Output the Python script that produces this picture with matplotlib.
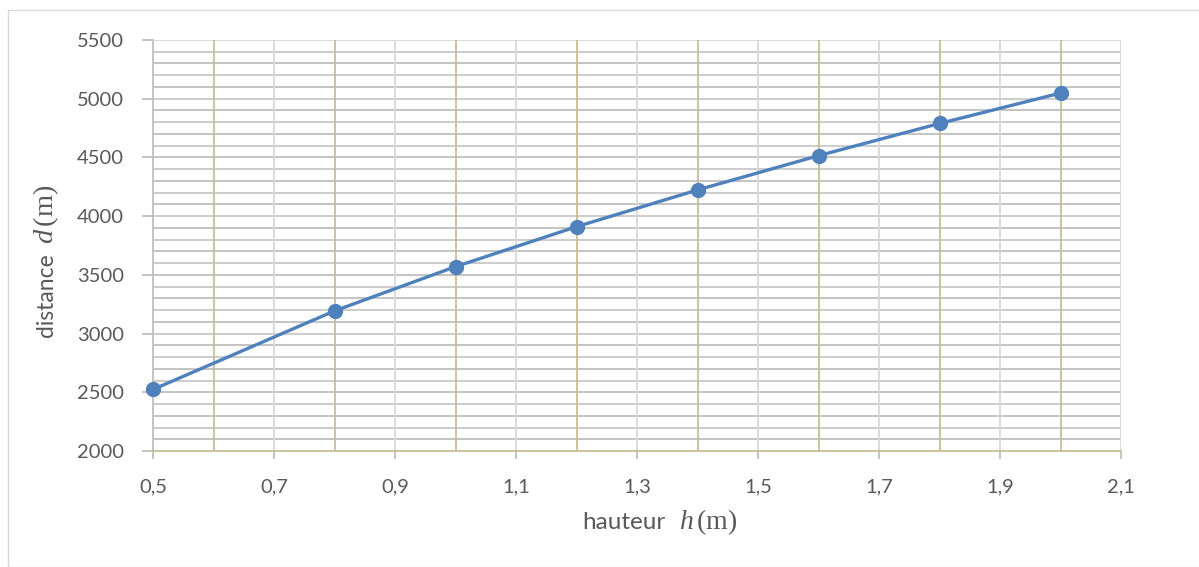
import matplotlib
matplotlib.use("Agg")
import matplotlib.pyplot as plt
import numpy as np
from matplotlib.ticker import FixedLocator, FuncFormatter

h_values = [0.5, 0.8, 1.0, 1.2, 1.4, 1.6, 1.8, 2.0]
d_values = [2524, 3193, 3570, 3910, 4223, 4515, 4789, 5048]
x_ticks = [0.5, 0.7, 0.9, 1.1, 1.3, 1.5, 1.7, 1.9, 2.1]
x_minor = [0.6, 0.8, 1.0, 1.2, 1.4, 1.6, 1.8, 2.0]
y_ticks = [2000, 2500, 3000, 3500, 4000, 4500, 5000, 5500]

plt.rcParams['mathtext.fontset'] = 'custom'
plt.rcParams['mathtext.it'] = 'Liberation Serif:italic'
plt.rcParams['mathtext.rm'] = 'Liberation Serif'
plt.rcParams['font.family'] = ['Lato', 'DejaVu Sans']

fig = plt.figure(figsize=(11.99, 5.67), dpi=100)
W, H = 1199, 567
ax = fig.add_axes([153 / W, 1 - 451 / H, (1121 - 153) / W, (451 - 40) / H])

def fx(px):
    return px / W

def fy(py):
    return 1 - py / H

# outer chart border
fig.patches.append(plt.Rectangle((fx(8), 0), 1.2, fy(10), transform=fig.transFigure,
                                 fill=False, edgecolor='#D9D9D9', linewidth=1.0))

ax.set_xlim(0.5, 2.1)
ax.set_ylim(2000, 5500)

# horizontal grid every 100
for i, yv in enumerate(np.arange(2100, 5500, 100)):
    ax.axhline(yv, color='#BFBFBF' if i % 2 == 0 else '#C8C8C8', linewidth=1.3, zorder=1)
ax.axhline(5500, color='#D9D9D9', linewidth=1.3, zorder=1)
# vertical light grid at labeled ticks
for xv in x_ticks[1:]:
    ax.axvline(xv, color='#D9D9D9', linewidth=1.3, zorder=1)
# vertical tan grid at minor positions
for xv in x_minor:
    ax.axvline(xv, color='#C9BE96', linewidth=1.3, zorder=1.5)

ax.plot(h_values, d_values, color='#4F81BD', linewidth=2.4, marker='o',
        markersize=10, zorder=3, clip_on=False)

for s in ['top', 'right']:
    ax.spines[s].set_visible(False)
ax.spines['left'].set_color('#BFBFBF')
ax.spines['left'].set_linewidth(1.3)
ax.spines['bottom'].set_color('#C9BE96')
ax.spines['bottom'].set_linewidth(1.3)
ax.spines['left'].set_zorder(2)
ax.spines['bottom'].set_zorder(2)

ax.xaxis.set_major_locator(FixedLocator(x_ticks))
ax.yaxis.set_major_locator(FixedLocator(y_ticks))
ax.xaxis.set_major_formatter(FuncFormatter(lambda v, p: f"{v:.1f}".replace('.', ',')))
ax.yaxis.set_major_formatter(FuncFormatter(lambda v, p: f"{int(v)}"))
ax.tick_params(axis='x', colors='#BFBFBF', length=6, width=1.3, labelcolor='#595959',
               labelsize=14.5, pad=14)
ax.tick_params(axis='y', colors='#BFBFBF', length=8, width=1.3, labelcolor='#595959',
               labelsize=14.5, pad=13)

# axis titles: sans-serif word + serif math symbol
lab_col = '#595959'
fig.text(fx(582), fy(529), "hauteur", fontsize=17.5, color=lab_col,
         ha='left', va='baseline')
fig.text(fx(679), fy(529), r"$h\,(\mathrm{m})$", fontsize=20, color=lab_col,
         ha='left', va='baseline')
fig.text(fx(53), fy(337), "distance", fontsize=16.5, color=lab_col, rotation=90,
         rotation_mode='anchor', ha='left', va='baseline')
fig.text(fx(53), fy(244), r"$d\,(\mathrm{m})$", fontsize=20.5, color=lab_col, rotation=90,
         rotation_mode='anchor', ha='left', va='baseline')

fig.savefig("out.png", dpi=100)
